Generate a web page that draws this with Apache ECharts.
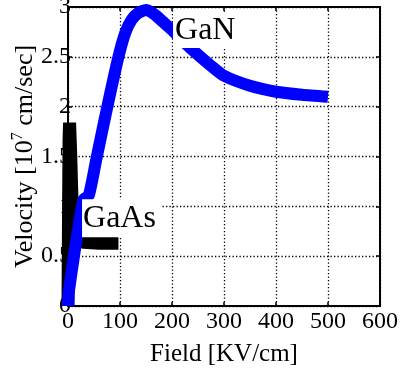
<!DOCTYPE html>
<html>
<head>
<meta charset="utf-8">
<script src="https://cdn.jsdelivr.net/npm/echarts@6/dist/echarts.min.js"></script>
<style>
html,body{margin:0;padding:0;background:#fff;}
#chart{width:403px;height:369px;}
</style>
</head>
<body>
<div id="chart"></div>
<script>
// Data
var ganField = [0, 2, 29, 40, 54, 74, 97, 110, 122, 135, 150, 165, 185, 200, 225, 250, 275, 300, 350, 400, 450, 500];
var ganVelocity = [0, 0.16, 1.06, 1.11, 1.46, 1.96, 2.5, 2.74, 2.87, 2.94, 2.97, 2.93, 2.84, 2.77, 2.64, 2.52, 2.41, 2.31, 2.21, 2.15, 2.12, 2.1];
var gaasField = [0, 1, 2, 3, 5, 8, 11, 16, 30, 60, 97];
var gaasVelocity = [0, 0.9, 1.65, 1.84, 1.55, 1.0, 0.75, 0.66, 0.64, 0.63, 0.63];
var xTicks = [0, 100, 200, 300, 400, 500, 600];
var yTicks = [0, 0.5, 1, 1.5, 2, 2.5, 3];
var labelGaN = {text: 'GaN', field: 202, velocity: 2.765};
var labelGaAs = {text: 'GaAs', field: 27, velocity: 0.88};

function pairs(xs, ys) { return xs.map(function (x, i) { return [x, ys[i]]; }); }

var FONT = 'Liberation Serif';
var chart = echarts.init(document.getElementById('chart'));

var gridStyle = {show: true, lineStyle: {color: '#000', width: 1.3, type: [1.3, 2.2]}};
var tickIn = {show: true, inside: true, length: 4, lineStyle: {color: '#000', width: 1.5}};
var lineAx = {show: true, onZero: false, lineStyle: {color: '#000', width: 2}};

chart.setOption({
  animation: false,
  backgroundColor: '#fff',
  grid: {left: 68, right: 23, top: 7, bottom: 63, containLabel: false, outerBoundsMode: 'none'},
  xAxis: [{
    type: 'value', min: xTicks[0], max: xTicks[xTicks.length - 1], interval: 100,
    position: 'bottom', z: 0,
    axisLine: lineAx, axisTick: tickIn, splitLine: gridStyle,
    axisLabel: {color: '#000', fontFamily: FONT, fontSize: 24, margin: 4},
    name: 'Field [KV/cm]', nameLocation: 'middle', nameGap: 36, nameMoveOverlap: false,
    nameTextStyle: {color: '#000', fontFamily: FONT, fontSize: 25}
  }, {
    type: 'value', min: xTicks[0], max: xTicks[xTicks.length - 1], interval: 100,
    position: 'top', z: 0,
    axisLine: lineAx, axisTick: tickIn, splitLine: {show: false}, axisLabel: {show: false}
  }],
  yAxis: [{
    type: 'value', min: yTicks[0], max: yTicks[yTicks.length - 1], interval: 0.5,
    position: 'left', z: 0,
    axisLine: lineAx, axisTick: tickIn, splitLine: gridStyle,
    axisLabel: {color: '#000', fontFamily: FONT, fontSize: 24, margin: -3},
    name: '{a|Velocity [10}{s|7}{a| cm/sec]}', nameLocation: 'middle', nameGap: 28, nameMoveOverlap: false,
    nameTextStyle: {
      color: '#000', fontFamily: FONT, fontSize: 26,
      rich: {
        a: {fontFamily: FONT, fontSize: 26, color: '#000', lineHeight: 30},
        s: {fontFamily: FONT, fontSize: 16, color: '#000', lineHeight: 16, verticalAlign: 'top'}
      }
    }
  }, {
    type: 'value', min: yTicks[0], max: yTicks[yTicks.length - 1], interval: 0.5,
    position: 'right', z: 0,
    axisLine: lineAx, axisTick: tickIn, splitLine: {show: false}, axisLabel: {show: false}
  }],
  series: [{
    name: 'GaAs', type: 'line', data: pairs(gaasField, gaasVelocity),
    xAxisIndex: 0, yAxisIndex: 0, clip: false, showSymbol: false, symbol: 'none', z: 3,
    lineStyle: {color: '#000', width: 13, cap: 'butt', join: 'bevel'},
    markPoint: {
      symbol: 'circle', symbolSize: 0, z: 10,
      data: [{coord: [labelGaAs.field, labelGaAs.velocity], value: labelGaAs.text}],
      label: {show: true, formatter: labelGaAs.text, position: 'inside', align: 'left', verticalAlign: 'middle',
        color: '#000', fontFamily: FONT, fontSize: 32, lineHeight: 38, backgroundColor: '#fff', padding: [0, 5, 0, 1]}
    }
  }, {
    name: 'GaN', type: 'line', data: pairs(ganField, ganVelocity),
    xAxisIndex: 0, yAxisIndex: 0, clip: false, showSymbol: false, symbol: 'none', z: 4, smooth: 0.2,
    lineStyle: {color: '#0000ff', width: 12, cap: 'butt', join: 'round'},
    markPoint: {
      symbol: 'circle', symbolSize: 0, z: 10,
      data: [{coord: [labelGaN.field, labelGaN.velocity], value: labelGaN.text}],
      label: {show: true, formatter: labelGaN.text, position: 'inside', align: 'left', verticalAlign: 'middle',
        color: '#000', fontFamily: FONT, fontSize: 32, lineHeight: 35, backgroundColor: '#fff', padding: [0, 2, 0, 2]}
    }
  }]
});
</script>
</body>
</html>
